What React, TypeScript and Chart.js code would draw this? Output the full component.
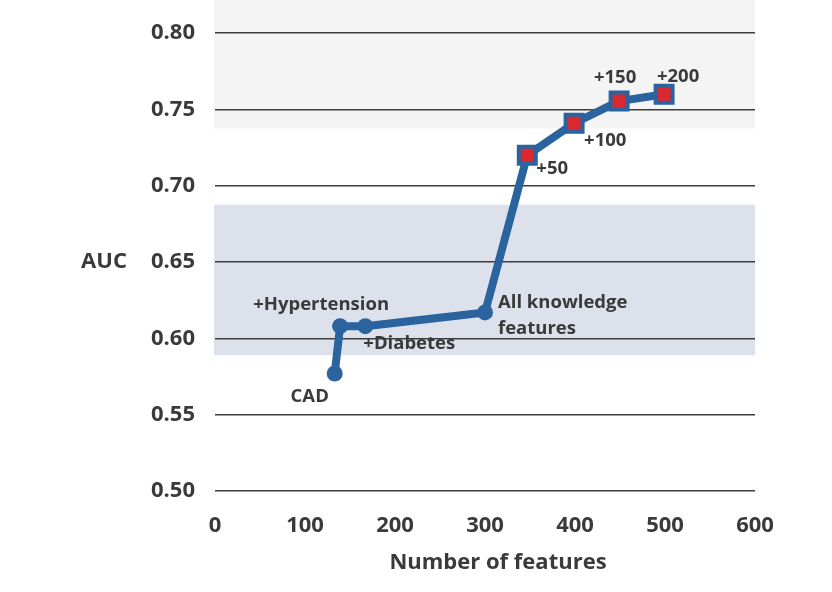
import React, { useEffect, useRef } from "react";
import { Chart, registerables } from "chart.js";

Chart.register(...registerables);

const features = [133, 139, 167, 300, 347, 399, 449, 499];
const auc = [0.577, 0.608, 0.608, 0.617, 0.72, 0.741, 0.7555, 0.76];
const pointLabels = ["CAD", "+Hypertension", "+Diabetes", "All knowledge\nfeatures", "+50", "+100", "+150", "+200"];
const yTicks = [0.5, 0.55, 0.6, 0.65, 0.7, 0.75, 0.8];
const xTicks = [0, 100, 200, 300, 400, 500, 600];
const grayBandFrom = 0.7375;
const blueBand = [0.589, 0.6876];
const xTitle = "Number of features";
const yTitle = "AUC";

const TEXT = "#3a3a3a";
const LINE = "#2b639e";
const RED = "#d9282f";
const FONT = "'Open Sans', 'DejaVu Sans', sans-serif";

// label placement: [dx, dy, align]
const labelPlace: [number, number, CanvasTextAlign][] = [
  [-25, 23, "center"],
  [-19, -21, "center"],
  [-2, 18, "left"],
  [13, -10, "left"],
  [9, 13, "left"],
  [10, 18, "left"],
  [-4, -23, "center"],
  [14, -18, "center"],
];

const bandsPlugin = {
  id: "bands",
  beforeDraw(chart: any) {
    const { ctx, chartArea, scales } = chart;
    const y = scales.y;
    ctx.save();
    ctx.fillStyle = "#f4f4f4";
    const g0 = y.getPixelForValue(grayBandFrom);
    ctx.fillRect(chartArea.left - 1, 0, chartArea.right - chartArea.left + 1, g0);
    ctx.fillStyle = "#dde1ec";
    const b1 = y.getPixelForValue(blueBand[1]);
    const b0 = y.getPixelForValue(blueBand[0]);
    ctx.fillRect(chartArea.left - 1, b1, chartArea.right - chartArea.left + 1, b0 - b1);
    ctx.restore();
  },
};

const labelsPlugin = {
  id: "labels",
  afterDatasetsDraw(chart: any) {
    const { ctx, scales, chartArea } = chart;
    ctx.save();
    ctx.fillStyle = TEXT;
    ctx.font = `bold 18.5px ${FONT}`;
    ctx.textBaseline = "middle";
    features.forEach((fx, i) => {
      const px = scales.x.getPixelForValue(fx);
      const py = scales.y.getPixelForValue(auc[i]);
      const [dx, dy, align] = labelPlace[i];
      ctx.textAlign = align;
      const lines = pointLabels[i].split("\n");
      lines.forEach((ln, j) => {
        ctx.fillText(ln, px + dx, py + dy + j * 26);
      });
    });
    // axis titles
    ctx.font = `bold 22px ${FONT}`;
    ctx.textAlign = "center";
    ctx.fillText(yTitle, 104, scales.y.getPixelForValue(0.65));
    ctx.fillText(xTitle, (chartArea.left + chartArea.right) / 2 + 13, 563);
    ctx.restore();
  },
};

export default function App() {
  const ref = useRef<HTMLCanvasElement>(null);
  useEffect(() => {
    if (!ref.current) return;
    const data = features.map((x, i) => ({ x, y: auc[i] }));
    const chart = new Chart(ref.current, {
      type: "line",
      data: {
        datasets: [
          {
            data,
            borderColor: LINE,
            borderWidth: 8,
            borderJoinStyle: "round",
            borderCapStyle: "round",
            pointStyle: features.map((_, i) => (i < 4 ? "circle" : "rect")) as any,
            pointRadius: features.map((_, i) => (i < 4 ? 8 : 12)),
            pointBackgroundColor: features.map((_, i) => (i < 4 ? LINE : RED)),
            pointBorderColor: LINE,
            pointBorderWidth: features.map((_, i) => (i < 4 ? 0 : 4)),
            tension: 0,
          },
        ],
      },
      plugins: [bandsPlugin, labelsPlugin],
      options: {
        animation: false,
        responsive: false,
        maintainAspectRatio: false,
        layout: { padding: { top: 0, right: 77, left: 0, bottom: 0 } },
        plugins: { legend: { display: false }, tooltip: { enabled: false } },
        scales: {
          x: {
            type: "linear",
            min: 0,
            max: 600,
            afterBuildTicks: (s: any) => {
              s.ticks = xTicks.map((v) => ({ value: v }));
            },
            afterFit: (s: any) => {
              s.height = 101;
            },
            grid: { display: false, drawTicks: false },
            border: { display: false },
            ticks: { color: TEXT, font: { family: FONT, size: 22, weight: "bold" }, padding: 22, maxRotation: 0 },
            title: { display: false },
          },
          y: {
            type: "linear",
            min: 0.5,
            max: 0.8,
            afterBuildTicks: (s: any) => {
              s.ticks = yTicks.map((v) => ({ value: v }));
            },
            afterFit: (s: any) => {
              s.width = 215;
            },
            grid: { color: "#3c3c3c", lineWidth: 1.5, drawTicks: false },
            border: { display: false },
            ticks: {
              color: TEXT,
              font: { family: FONT, size: 22, weight: "bold" },
              padding: 20,
              callback: (v: any) => Number(v).toFixed(2),
            },
          },
        },
      },
    });
    return () => chart.destroy();
  }, []);
  return (
    <div style={{ position: "fixed", left: 0, top: 0, width: 832, height: 592, background: "#fff" }}>
      <canvas ref={ref} width={832} height={592} style={{ display: "block", width: 832, height: 592 }} />
    </div>
  );
}
